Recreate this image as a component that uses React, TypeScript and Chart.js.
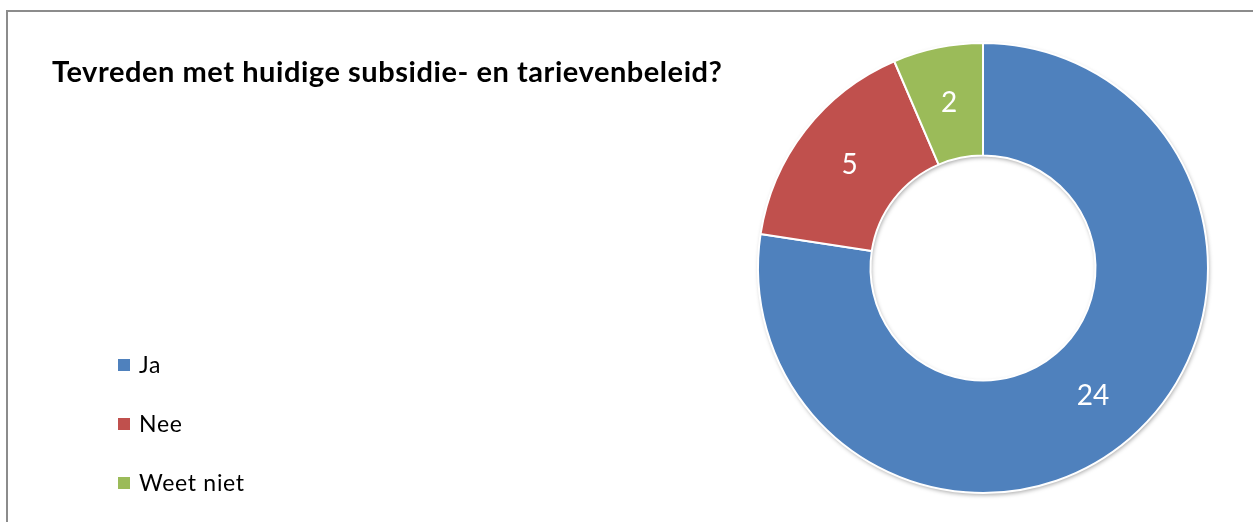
import React, { useEffect, useRef } from "react";
import { Chart, registerables } from "chart.js";

Chart.register(...registerables);

const titleText = "Tevreden met huidige subsidie- en tarievenbeleid?";
const categories = ["Ja", "Nee", "Weet niet"];
const values = [24, 5, 2];
const colors = ["#4F81BD", "#C0504D", "#9BBB59"];

const W = 1253;
const H = 522;

const overlayPlugin = {
  id: "overlay",
  beforeDatasetsDraw(chart: any) {
    const meta = chart.getDatasetMeta(0);
    const a = meta.data[0];
    if (!a) return;
    const ctx = chart.ctx;
    ctx.save();
    ctx.shadowColor = "rgba(0,0,0,0.35)";
    ctx.shadowBlur = 4;
    ctx.shadowOffsetX = 1;
    ctx.shadowOffsetY = 2;
    ctx.fillStyle = "#ffffff";
    ctx.beginPath();
    ctx.arc(a.x, a.y, a.outerRadius, 0, Math.PI * 2, false);
    ctx.arc(a.x, a.y, a.innerRadius, 0, Math.PI * 2, true);
    ctx.closePath();
    ctx.fill();
    ctx.restore();
  },
  afterDatasetsDraw(chart: any) {
    const ctx = chart.ctx;
    const meta = chart.getDatasetMeta(0);
    ctx.save();
    ctx.fillStyle = "#ffffff";
    ctx.font = "28px Lato";
    ctx.textAlign = "center";
    ctx.textBaseline = "middle";
    meta.data.forEach((arc: any, i: number) => {
      const p = arc.tooltipPosition();
      ctx.fillText(String(chart.data.datasets[0].data[i]), p.x, p.y);
    });
    ctx.restore();
  },
  afterDraw(chart: any) {
    const ctx = chart.ctx;
    ctx.save();
    ctx.fillStyle = "#000000";
    ctx.font = "bold 29px Lato";
    ctx.letterSpacing = "0.55px";
    ctx.textAlign = "left";
    ctx.textBaseline = "middle";
    ctx.fillText(titleText, 52, 73);
    ctx.font = "23px Lato";
    ctx.letterSpacing = "0.7px";
    const labels = chart.data.labels as string[];
    labels.forEach((lab, i) => {
      const y = 365 + i * 59;
      ctx.fillStyle = colors[i];
      ctx.fillRect(118, y - 6, 12, 12);
      ctx.fillStyle = "#000000";
      ctx.fillText(lab, 139, y + 1);
    });
    ctx.restore();
  },
};

export default function App() {
  const ref = useRef<HTMLCanvasElement | null>(null);
  useEffect(() => {
    if (!ref.current) return;
    const chart = new Chart(ref.current, {
      type: "doughnut",
      data: {
        labels: categories,
        datasets: [
          {
            data: values,
            backgroundColor: colors,
            borderColor: "#ffffff",
            borderWidth: 2,
          },
        ],
      },
      options: {
        responsive: false,
        animation: false,
        devicePixelRatio: 1,
        cutout: "50%",
        layout: { padding: { left: 757, right: 44, top: 42, bottom: 28 } },
        plugins: {
          legend: { display: false },
          title: { display: false },
          tooltip: { enabled: false },
        },
      },
      plugins: [overlayPlugin],
    });
    return () => chart.destroy();
  }, []);
  return (
    <div
      style={{
        position: "fixed",
        left: 0,
        top: 0,
        width: W,
        height: H,
        overflow: "hidden",
        background: "#ffffff",
      }}
    >
      <div
        style={{
          position: "absolute",
          left: 6,
          top: 10,
          width: W + 50,
          height: H + 50,
          border: "2px solid #8c8c8c",
          boxSizing: "border-box",
        }}
      />
      <canvas
        ref={ref}
        width={W}
        height={H}
        style={{ position: "absolute", left: 0, top: 0, width: W, height: H }}
      />
    </div>
  );
}
